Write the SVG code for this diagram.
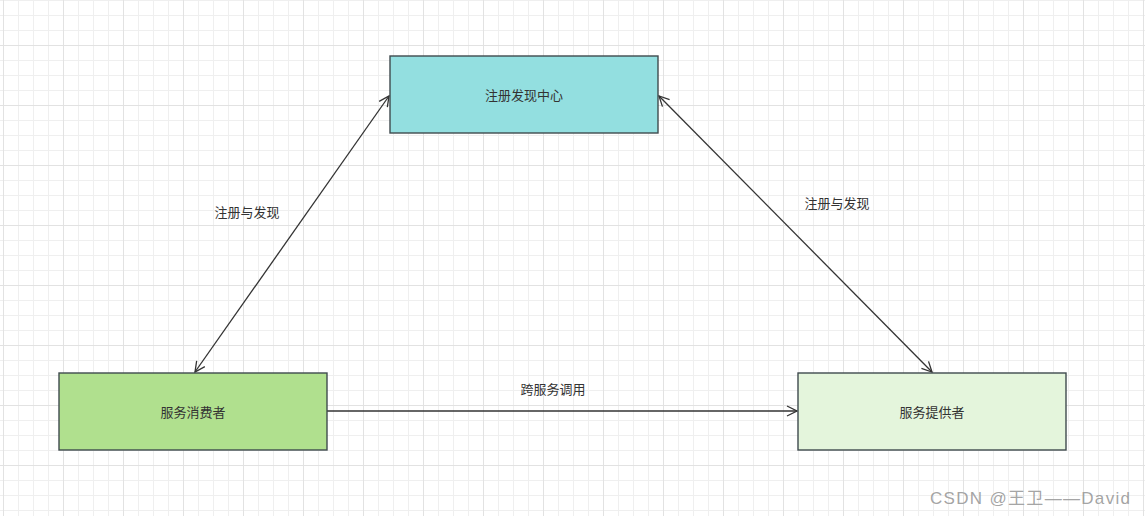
<svg xmlns="http://www.w3.org/2000/svg" width="1145" height="516" viewBox="0 0 1145 516">
<defs>
<pattern id="minor" x="3" y="0" width="15" height="15" patternUnits="userSpaceOnUse">
<path d="M0.5 0V15M0 0.5H15" fill="none" stroke="#efefef" stroke-width="1"/>
</pattern>
<pattern id="major" x="3" y="45" width="60" height="60" patternUnits="userSpaceOnUse">
<path d="M0.5 0V60M0 0.5H60" fill="none" stroke="#e2e2e2" stroke-width="1"/>
</pattern>
<marker id="arr" viewBox="0 0 12 12" refX="11" refY="6" markerWidth="12" markerHeight="12" markerUnits="userSpaceOnUse" orient="auto-start-reverse">
<path d="M1 1L11 6L1 11" fill="none" stroke="#333" stroke-width="1.3"/>
</marker>
<style>
.box{stroke:#3f4a4e;stroke-width:1.4}
.t{font-family:"Liberation Sans","Noto Sans CJK SC",sans-serif;font-size:13px;fill:#333;text-anchor:middle;dominant-baseline:central}
.c{fill:none;stroke:#333;stroke-width:1.3}
</style>
</defs>
<rect width="1145" height="516" fill="#fff"/>
<rect width="1145" height="516" fill="url(#minor)"/>
<rect width="1145" height="516" fill="url(#major)"/>
<g id="connectors">
<line class="c" x1="389" y1="96" x2="195" y2="372" marker-start="url(#arr)" marker-end="url(#arr)"/>
<line class="c" x1="659" y1="96" x2="932" y2="372" marker-start="url(#arr)" marker-end="url(#arr)"/>
<line class="c" x1="327" y1="411" x2="797" y2="411" marker-end="url(#arr)"/>
<text class="t" x="247" y="212">注册与发现</text>
<text class="t" x="837" y="203">注册与发现</text>
<text class="t" x="553" y="389">跨服务调用</text>
</g>
<g id="registry">
<rect class="box" x="390" y="56" width="268" height="77" fill="#93dfe0"/>
<text class="t" x="524" y="95">注册发现中心</text>
</g>
<g id="consumer">
<rect class="box" x="59" y="373" width="268" height="77" fill="#b0e08e"/>
<text class="t" x="193" y="412">服务消费者</text>
</g>
<g id="provider">
<rect class="box" x="798" y="373" width="268" height="77" fill="#e4f5dc"/>
<text class="t" x="932" y="412">服务提供者</text>
</g>
<text x="930" y="504" font-family="'Liberation Sans','Noto Sans CJK SC',sans-serif" font-size="17" fill="#999" fill-opacity="0.9" textLength="200" lengthAdjust="spacing">CSDN @王卫——David</text>
</svg>
